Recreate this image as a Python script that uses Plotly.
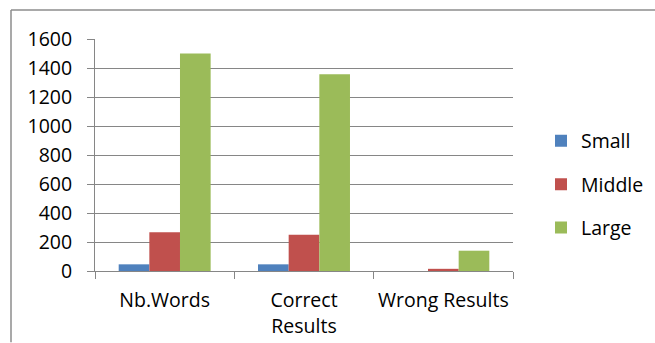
import plotly.graph_objects as go

categories = ["Nb.Words", "Correct<br>Results", "Wrong Results"]
series_names = ["Small", "Middle", "Large"]
small = [46, 46, 0]
middle = [267, 250, 15]
large = [1500, 1357, 140]
y_ticks = [0, 200, 400, 600, 800, 1000, 1200, 1400, 1600]

colors = ["#4F81BD", "#C0504D", "#9BBB59"]
W, H = 655, 343
ml, mr, mt, mb = 95, 142, 39, 71.5
pw, ph = W - ml - mr, H - mt - mb

fig = go.Figure()
for name, vals, c in zip(series_names, [small, middle, large], colors):
    fig.add_trace(go.Bar(name=name, x=categories, y=vals, marker_color=c,
                         marker_line_width=0, legendgroup=name))

grid = "#868686"
font = dict(family="Open Sans", size=19.5, color="#000000")

def px2x(px):
    return (px - ml) / pw

def px2y(py):
    return (H - mb - py) / ph

fig.update_layout(
    width=W, height=H,
    margin=dict(l=ml, r=mr, t=mt, b=mb, pad=0, autoexpand=False),
    paper_bgcolor="white", plot_bgcolor="white",
    barmode="group", bargap=0.34, bargroupgap=0,
    font=font,
    showlegend=True,
    legend=dict(x=px2x(541), y=px2y(185), xanchor="left", yanchor="middle",
                traceorder="grouped", tracegroupgap=15, font=font,
                bgcolor="rgba(0,0,0,0)", borderwidth=0),
    xaxis=dict(showline=True, linecolor=grid, linewidth=1, ticks="outside",
               tickson="boundaries", ticklen=7, tickcolor=grid, tickwidth=1,
               showgrid=False, tickfont=font, fixedrange=True, tickangle=0,
               automargin=False, ticklabelstandoff=12),
    yaxis=dict(range=[0, 1600], tickvals=y_ticks, showline=True, linecolor=grid,
               linewidth=1, ticks="outside", ticklen=7, tickcolor=grid,
               tickwidth=1, showgrid=True, gridcolor=grid, gridwidth=1,
               zeroline=False, tickfont=font, ticklabelstandoff=11,
               automargin=False),
    shapes=[
        dict(type="line", xref="paper", yref="paper", x0=px2x(11), x1=px2x(655),
             y0=px2y(10), y1=px2y(10), line=dict(color="#8c8c8c", width=1.5)),
        dict(type="line", xref="paper", yref="paper", x0=px2x(11), x1=px2x(11),
             y0=px2y(10), y1=px2y(343), line=dict(color="#8c8c8c", width=1.5)),
    ],
)

fig.write_html("out.html")
